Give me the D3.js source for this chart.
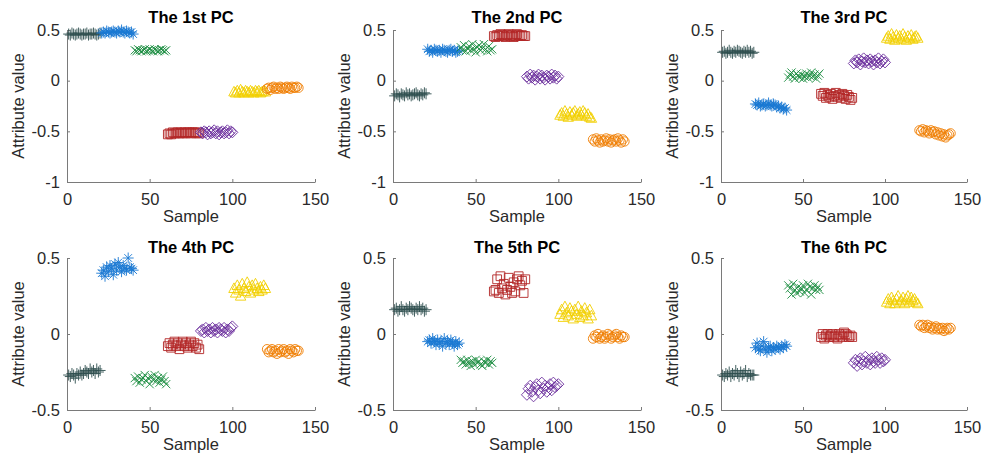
<!DOCTYPE html>
<html><head><meta charset="utf-8">
<script src="https://cdn.jsdelivr.net/npm/d3@7"></script>
<style>body{margin:0;background:#fff}svg{display:block}text{font-family:"Liberation Sans",Arial,Helvetica,sans-serif}</style>
</head><body><svg id="c" width="983" height="461"></svg>
<script>
const titles = ["The 1st PC","The 2nd PC","The 3rd PC","The 4th PC","The 5th PC","The 6th PC"];
const xTicks = [0,50,100,150];
const yTicksTop = [-1,-0.5,0,0.5];
const yTicksBottom = [-0.5,0,0.5];
const classNames = ["C1","C2","C3","C4","C5","C6","C7"];
const classColors = ["#2f4f4f","#1a78d2","#1a8c40","#b22626","#6a2c9c","#f2cf00","#ef7d00"];
const classMarkers = ["plus","asterisk","times","square","diamond","triangle","circle"];

const pc1 = [
 0.46,0.45,0.47,0.46,0.45,0.46,0.47,0.46,0.45,0.46,0.46,0.47,0.45,0.46,0.46,0.47,0.46,0.45,0.46,0.47,
 0.47,0.48,0.47,0.49,0.48,0.47,0.48,0.49,0.48,0.47,0.49,0.48,0.50,0.48,0.47,0.49,0.48,0.47,0.48,0.46,
 0.30,0.29,0.31,0.30,0.29,0.30,0.31,0.29,0.30,0.31,0.30,0.29,0.31,0.30,0.29,0.30,0.31,0.30,0.29,0.30,
 -0.53,-0.52,-0.53,-0.51,-0.52,-0.52,-0.51,-0.52,-0.51,-0.52,-0.51,-0.52,-0.51,-0.51,-0.52,-0.51,-0.51,-0.52,-0.51,-0.52,
 -0.51,-0.52,-0.50,-0.51,-0.53,-0.50,-0.52,-0.51,-0.49,-0.52,-0.50,-0.53,-0.51,-0.50,-0.52,-0.51,-0.49,-0.52,-0.50,-0.51,
 -0.11,-0.12,-0.10,-0.12,-0.09,-0.11,-0.12,-0.10,-0.11,-0.12,-0.10,-0.11,-0.12,-0.10,-0.11,-0.10,-0.12,-0.11,-0.10,-0.11,
 -0.08,-0.07,-0.09,-0.07,-0.06,-0.08,-0.07,-0.08,-0.06,-0.07,-0.08,-0.07,-0.06,-0.07,-0.08,-0.06,-0.07,-0.07,-0.06,-0.07];
const pc2 = [
 -0.15,-0.13,-0.14,-0.16,-0.13,-0.14,-0.15,-0.12,-0.14,-0.13,-0.15,-0.14,-0.13,-0.12,-0.14,-0.15,-0.13,-0.14,-0.12,-0.13,
 0.31,0.29,0.30,0.28,0.31,0.30,0.29,0.30,0.28,0.31,0.30,0.29,0.28,0.30,0.31,0.29,0.30,0.28,0.29,0.30,
 0.33,0.30,0.35,0.29,0.32,0.34,0.30,0.36,0.31,0.28,0.33,0.35,0.30,0.32,0.36,0.31,0.29,0.34,0.30,0.31,
 0.44,0.43,0.45,0.44,0.46,0.45,0.44,0.43,0.45,0.46,0.44,0.45,0.43,0.44,0.46,0.45,0.44,0.45,0.44,0.44,
 0.04,0.02,0.06,0.03,0.05,0.01,0.04,0.06,0.02,0.05,0.03,0.01,0.05,0.04,0.02,0.06,0.03,0.05,0.02,0.04,
 -0.34,-0.32,-0.35,-0.30,-0.33,-0.36,-0.31,-0.34,-0.32,-0.30,-0.35,-0.33,-0.31,-0.34,-0.30,-0.32,-0.35,-0.33,-0.36,-0.37,
 -0.58,-0.60,-0.57,-0.59,-0.61,-0.58,-0.60,-0.59,-0.57,-0.60,-0.58,-0.61,-0.59,-0.58,-0.60,-0.57,-0.59,-0.61,-0.58,-0.60];
const pc3 = [
 0.28,0.29,0.27,0.28,0.30,0.28,0.27,0.29,0.28,0.30,0.29,0.28,0.27,0.29,0.28,0.30,0.28,0.29,0.27,0.28,
 -0.23,-0.24,-0.22,-0.25,-0.24,-0.23,-0.25,-0.24,-0.22,-0.24,-0.25,-0.23,-0.24,-0.26,-0.25,-0.27,-0.26,-0.28,-0.27,-0.29,
 0.03,0.06,0.08,0.04,0.02,0.07,0.05,0.03,0.06,0.02,0.04,0.07,0.03,0.05,0.08,0.04,0.06,0.02,0.05,0.07,
 -0.13,-0.15,-0.12,-0.17,-0.14,-0.16,-0.13,-0.18,-0.15,-0.12,-0.16,-0.14,-0.17,-0.13,-0.15,-0.18,-0.14,-0.16,-0.19,-0.17,
 0.17,0.20,0.18,0.21,0.16,0.19,0.22,0.18,0.20,0.17,0.21,0.19,0.16,0.20,0.18,0.22,0.17,0.19,0.21,0.18,
 0.42,0.44,0.41,0.46,0.43,0.40,0.45,0.42,0.44,0.41,0.46,0.43,0.40,0.44,0.42,0.45,0.41,0.43,0.44,0.42,
 -0.49,-0.50,-0.48,-0.51,-0.49,-0.50,-0.52,-0.49,-0.51,-0.50,-0.53,-0.51,-0.54,-0.52,-0.55,-0.53,-0.56,-0.54,-0.53,-0.52];
const pc4 = [
 -0.27,-0.28,-0.26,-0.27,-0.29,-0.26,-0.27,-0.25,-0.27,-0.26,-0.24,-0.25,-0.26,-0.23,-0.25,-0.24,-0.26,-0.23,-0.25,-0.24,
 0.40,0.42,0.38,0.44,0.41,0.45,0.43,0.39,0.46,0.42,0.47,0.44,0.41,0.45,0.43,0.42,0.50,0.44,0.43,0.42,
 -0.29,-0.31,-0.28,-0.32,-0.30,-0.29,-0.27,-0.31,-0.29,-0.33,-0.28,-0.30,-0.27,-0.31,-0.29,-0.32,-0.30,-0.28,-0.31,-0.33,
 -0.08,-0.06,-0.09,-0.07,-0.05,-0.08,-0.06,-0.10,-0.07,-0.05,-0.08,-0.06,-0.09,-0.07,-0.05,-0.08,-0.06,-0.09,-0.07,-0.10,
 0.02,0.03,0.01,0.04,0.02,0.03,0.01,0.04,0.02,0.03,0.01,0.04,0.03,0.02,0.04,0.01,0.03,0.02,0.04,0.05,
 0.30,0.27,0.32,0.29,0.25,0.33,0.30,0.28,0.34,0.31,0.27,0.32,0.29,0.33,0.30,0.28,0.31,0.29,0.32,0.30,
 -0.10,-0.12,-0.11,-0.10,-0.12,-0.11,-0.13,-0.10,-0.12,-0.11,-0.10,-0.12,-0.11,-0.13,-0.10,-0.11,-0.12,-0.10,-0.11,-0.11];
const pc5 = [
 0.16,0.17,0.15,0.16,0.18,0.16,0.15,0.17,0.16,0.18,0.17,0.16,0.15,0.17,0.16,0.18,0.16,0.17,0.15,0.16,
 -0.05,-0.04,-0.06,-0.03,-0.05,-0.07,-0.04,-0.06,-0.05,-0.08,-0.03,-0.06,-0.05,-0.07,-0.04,-0.06,-0.08,-0.05,-0.07,-0.06,
 -0.17,-0.19,-0.18,-0.20,-0.17,-0.19,-0.21,-0.18,-0.20,-0.17,-0.19,-0.18,-0.20,-0.21,-0.18,-0.19,-0.17,-0.20,-0.18,-0.19,
 0.28,0.29,0.36,0.27,0.38,0.30,0.33,0.26,0.29,0.37,0.31,0.27,0.34,0.28,0.36,0.38,0.32,0.35,0.27,0.36,
 -0.40,-0.36,-0.34,-0.38,-0.41,-0.35,-0.33,-0.37,-0.39,-0.32,-0.36,-0.34,-0.38,-0.35,-0.33,-0.37,-0.32,-0.35,-0.34,-0.33,
 0.13,0.16,0.11,0.18,0.14,0.12,0.17,0.15,0.10,0.16,0.13,0.18,0.11,0.15,0.12,0.17,0.14,0.10,0.16,0.12,
 -0.03,-0.01,-0.02,0.00,-0.03,-0.02,-0.01,-0.03,-0.02,0.00,-0.01,-0.03,-0.02,-0.01,0.00,-0.02,-0.03,-0.01,-0.02,-0.02];
const pc6 = [
 -0.27,-0.28,-0.26,-0.27,-0.25,-0.28,-0.26,-0.27,-0.24,-0.26,-0.28,-0.25,-0.27,-0.26,-0.24,-0.28,-0.26,-0.27,-0.27,-0.27,
 -0.09,-0.06,-0.10,-0.11,-0.08,-0.05,-0.10,-0.12,-0.09,-0.08,-0.11,-0.09,-0.10,-0.08,-0.09,-0.10,-0.08,-0.09,-0.07,-0.08,
 0.32,0.30,0.26,0.33,0.29,0.27,0.31,0.28,0.30,0.32,0.27,0.29,0.33,0.31,0.26,0.30,0.32,0.29,0.31,0.29,
 -0.02,0.00,-0.03,-0.01,0.00,-0.02,-0.01,0.00,-0.02,-0.01,-0.03,0.00,-0.01,-0.02,0.01,0.00,-0.01,-0.02,-0.01,-0.02,
 -0.19,-0.17,-0.21,-0.18,-0.16,-0.20,-0.18,-0.15,-0.19,-0.17,-0.20,-0.16,-0.18,-0.19,-0.15,-0.17,-0.19,-0.16,-0.18,-0.17,
 0.21,0.23,0.20,0.24,0.22,0.20,0.23,0.25,0.21,0.22,0.24,0.20,0.23,0.25,0.21,0.24,0.22,0.23,0.21,0.20,
 0.06,0.05,0.06,0.04,0.05,0.06,0.04,0.05,0.03,0.04,0.05,0.03,0.04,0.03,0.04,0.02,0.03,0.04,0.03,0.04];
const pcs = [pc1,pc2,pc3,pc4,pc5,pc6];

const svg = d3.select("#c");
const colX = [67,393,721], colW = [248,248,246];
const rowY = [30,258], H = 152, titleGap = [7,5];
const axisColor = "#7a7a7a", textColor = "#2a2a2a", FS = "16.5px";

function markerPath(type, r){
  const p = d3.path();
  if(type==="plus"){p.moveTo(-r,0);p.lineTo(r,0);p.moveTo(0,-r);p.lineTo(0,r);}
  else if(type==="times"){const a=r*0.75;p.moveTo(-a,-a);p.lineTo(a,a);p.moveTo(-a,a);p.lineTo(a,-a);}
  else if(type==="asterisk"){p.moveTo(-r,0);p.lineTo(r,0);p.moveTo(0,-r);p.lineTo(0,r);const a=r*0.7;p.moveTo(-a,-a);p.lineTo(a,a);p.moveTo(-a,a);p.lineTo(a,-a);}
  else if(type==="square"){const a=r*0.8;p.rect(-a,-a,2*a,2*a);}
  else if(type==="diamond"){p.moveTo(0,-r);p.lineTo(r,0);p.lineTo(0,r);p.lineTo(-r,0);p.closePath();}
  else if(type==="triangle"){p.moveTo(0,-r);p.lineTo(r*0.95,r*0.75);p.lineTo(-r*0.95,r*0.75);p.closePath();}
  else if(type==="circle"){const a=r*0.85;p.moveTo(a,0);p.arc(0,0,a,0,2*Math.PI);}
  return p.toString();
}

pcs.forEach((vals,k)=>{
  const row = Math.floor(k/3), col = k%3;
  const x0 = colX[col], y0 = rowY[row], W = colW[col];
  const yTicks = row===0 ? yTicksTop : yTicksBottom;
  const x = d3.scaleLinear().domain([0,150]).range([x0,x0+W]);
  const y = d3.scaleLinear().domain(d3.extent(yTicks)).range([y0+H,y0]);
  const g = svg.append("g");

  const xa = g.append("g").attr("transform",`translate(0,${y0+H})`)
    .call(d3.axisBottom(x).tickValues(xTicks).tickSizeInner(-3).tickSizeOuter(0).tickPadding(11).tickFormat(d3.format("d")));
  const ya = g.append("g").attr("transform",`translate(${x0},0)`)
    .call(d3.axisLeft(y).tickValues(yTicks).tickSizeInner(-3).tickSizeOuter(0).tickPadding(7).tickFormat(d=>String(d)));
  [xa,ya].forEach(a=>{
    a.select(".domain").attr("stroke",axisColor).attr("stroke-width",1);
    a.selectAll(".tick line").attr("stroke",axisColor);
    a.selectAll("text").attr("fill",textColor).style("font-size",FS);
  });

  g.append("text").attr("x",x0+W/2).attr("y",y0-titleGap[row]).attr("text-anchor","middle")
    .style("font-size",FS).style("font-weight","bold").attr("fill","#000").text(titles[k]);
  g.append("text").attr("x",x0+W/2).attr("y",y0+H+40).attr("text-anchor","middle")
    .style("font-size",FS).attr("fill",textColor).text("Sample");
  g.append("text").attr("transform",`translate(${x0-43},${y0+H/2}) rotate(-90)`).attr("text-anchor","middle")
    .style("font-size",FS).attr("fill",textColor).text("Attribute value");

  const pts = vals.map((v,i)=>({i:i+1, v, c:Math.floor(i/20)}));
  g.append("g").selectAll("path").data(pts).join("path")
    .attr("transform",d=>`translate(${x(d.i)},${y(d.v)})`)
    .attr("d",d=>markerPath(classMarkers[d.c],5.5))
    .attr("fill","none").attr("stroke",d=>classColors[d.c]).attr("stroke-width",0.9);
});
</script></body></html>
